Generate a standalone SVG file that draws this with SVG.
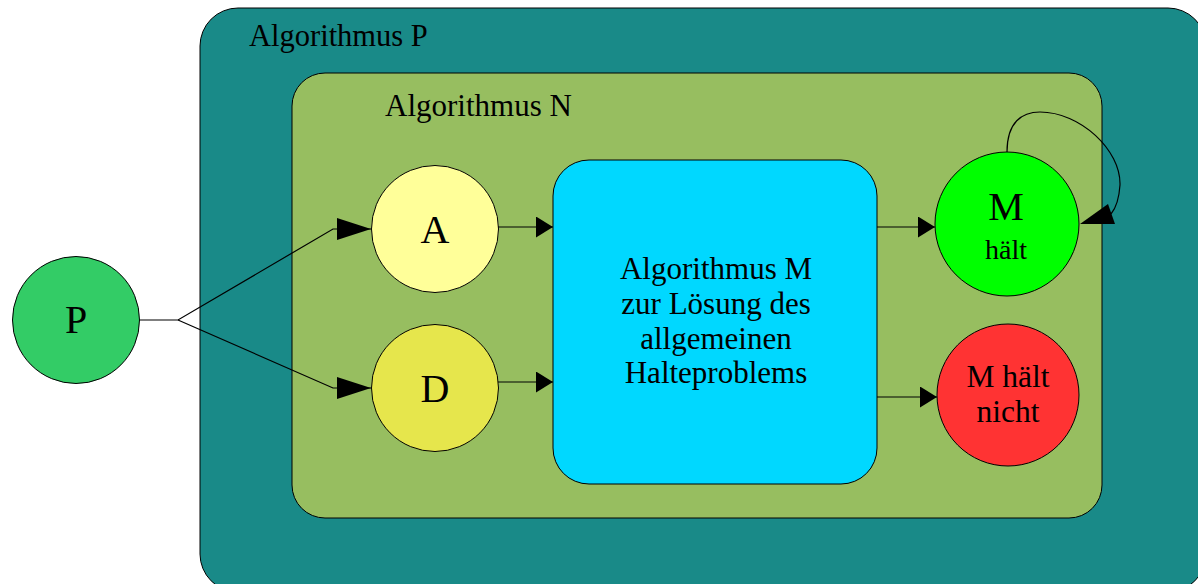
<svg xmlns="http://www.w3.org/2000/svg" width="1198" height="584" viewBox="0 0 1198 584">
<style>
.t{font-family:"Liberation Serif","Times New Roman",serif;fill:#000}
.s{stroke:#000;stroke-width:1}
.c{fill:none;stroke:#000;stroke-width:1.2}
</style>
<defs>
<marker id="big" markerWidth="34" markerHeight="22" refX="34" refY="11" orient="auto" markerUnits="userSpaceOnUse"><path d="M0,0 L34,11 L0,22 Z" fill="#000"/></marker>
<marker id="sm" markerWidth="17" markerHeight="21" refX="17" refY="10.5" orient="auto" markerUnits="userSpaceOnUse"><path d="M0,0 L17,10.5 L0,21 Z" fill="#000"/></marker>
</defs>
<rect width="1198" height="584" fill="#fff"/>
<g id="algP">
<rect class="s" x="200" y="8" width="1006" height="584" rx="38" fill="#198a88"/>
<text class="t" x="249" y="46" font-size="30.5">Algorithmus P</text>
</g>
<g id="algN">
<rect class="s" x="292" y="73" width="810" height="445" rx="33" fill="#97be60"/>
<text class="t" x="385" y="116" font-size="31">Algorithmus N</text>
</g>
<g id="algM">
<rect class="s" x="553" y="160" width="324" height="324" rx="36" fill="#00d8ff"/>
<text class="t" font-size="31" text-anchor="middle"><tspan x="716" y="279">Algorithmus M</tspan><tspan x="716" y="314">zur Lösung des</tspan><tspan x="716" y="349">allgemeinen</tspan><tspan x="716" y="383">Halteproblems</tspan></text>
</g>
<g id="P">
<circle class="s" cx="76" cy="320" r="63.5" fill="#33cc66"/>
<text class="t" x="76" y="333" font-size="40" text-anchor="middle">P</text>
</g>
<g id="A">
<circle class="s" cx="435" cy="229" r="63.5" fill="#ffff99"/>
<text class="t" x="435" y="243" font-size="40" text-anchor="middle">A</text>
</g>
<g id="D">
<circle class="s" cx="435" cy="388" r="63.5" fill="#e6e64c"/>
<text class="t" x="435" y="402" font-size="40" text-anchor="middle">D</text>
</g>
<g id="Mhaelt">
<circle class="s" cx="1007" cy="224" r="72" fill="#00ff00"/>
<text class="t" x="1006" y="220" font-size="40" text-anchor="middle">M</text>
<text class="t" x="1006" y="259" font-size="28" text-anchor="middle">hält</text>
</g>
<g id="Mhaeltnicht">
<circle class="s" cx="1008" cy="395" r="71" fill="#ff3333"/>
<text class="t" font-size="31.5" text-anchor="middle"><tspan x="1008" y="387">M hält</tspan><tspan x="1008" y="422">nicht</tspan></text>
</g>
<g id="connectors">
<path class="c" d="M140,320 L178,320 L333,229 L371,229" marker-end="url(#big)"/>
<path class="c" d="M178,320 L333,388 L371,388" marker-end="url(#big)"/>
<path class="c" d="M498,227 L553,227" marker-end="url(#sm)"/>
<path class="c" d="M498,382 L553,382" marker-end="url(#sm)"/>
<path class="c" d="M877,227 L935,227" marker-end="url(#sm)"/>
<path class="c" d="M877,397 L937,397" marker-end="url(#sm)"/>
<path class="c" d="M1007,152 C1007,122 1022,112 1040,112 C1080,112 1121,150 1120,185 C1119,200 1116,208 1111,214"/>
<path d="M1080,224 L1108,204 L1115,224 Z" fill="#000"/>
</g>
</svg>
